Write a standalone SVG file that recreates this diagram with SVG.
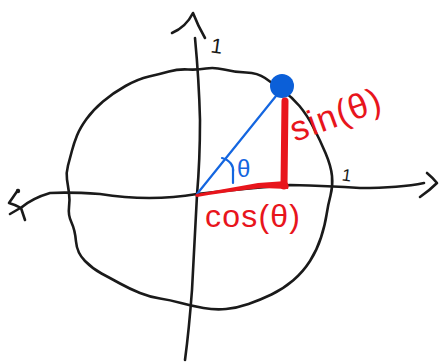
<svg xmlns="http://www.w3.org/2000/svg" width="439" height="362" viewBox="0 0 439 362">
<style>
.ink{fill:none;stroke:#1a1a1a;stroke-width:2.6;stroke-linecap:round;stroke-linejoin:round}
.red{fill:#e8151c;font-family:"Liberation Sans",Arial,sans-serif}
.blue{fill:none;stroke:#1466e0;stroke-width:2.2;stroke-linecap:round;stroke-linejoin:round}
.lbl{fill:#1a1a1a;font-family:"Liberation Sans",Arial,sans-serif}
</style>
<rect width="439" height="362" fill="#ffffff"/>
<g id="circle">
<path class="ink" d="M69 207.5 Q70 200 69 193 Q68 186 67 179.5 Q66 173 68 165.5 Q70 158 72 150.5 Q74 143 77 135.5 Q80 128 86.5 119 Q93 110 103 101.5 Q113 93 125.5 86 Q138 79 149 76.5 Q160 74 169 71.5 Q178 69 188 69.5 Q198 70 206 68.5 Q214 67 224 69.5 Q234 72 246 72.5 Q258 73 265 78 Q272 83 282 90 Q292 97 299.5 106 Q307 115 313.5 127.5 Q320 140 325.5 153 Q331 166 332 176 Q333 186 330.5 195.5 Q328 205 326.5 215 Q325 225 321 237.5 Q317 250 310 261 Q303 272 293 280.5 Q283 289 271.5 294.5 Q260 300 248.5 304 Q237 308 226 309 Q215 310 203.5 308 Q192 306 181 303 Q170 300 160 298.5 Q150 297 140 293 Q130 289 120 283.5 Q110 278 101.5 273.5 Q93 269 85 261 Q77 253 76 241.5 Q75 230 71.5 222.5 Q68 215 69 207.5 Z"/>
</g>
<g id="axes">
<path class="ink" d="M195 38 Q199 80 200 120 Q200 160 197 195 Q194 250 192 290 Q189 330 185 360"/>
<path class="ink" d="M172 33 Q186 27 193 13 Q198 26 205 38"/>
<path class="ink" d="M22 207 Q33 198 50 193 Q70 192 100 194 Q150 202 197 194 Q250 188 290 185 Q330 186 360 188 Q400 188 424 183"/>
<path class="ink" d="M427 173 Q433 178 437 183 Q430 190 420 197"/>
<path class="ink" d="M18 190 L9 203 Q16 205 21 208 L25 220 M10 214 L22 207"/>
<circle cx="18" cy="191" r="2.2" fill="#1a1a1a"/>
<text class="lbl" x="211" y="53" font-size="21" transform="rotate(8 216 45)">1</text>
<text class="lbl" x="342" y="181" font-size="17" transform="rotate(8 347 175)">1</text>
</g>
<g id="angle">
<line class="blue" x1="197" y1="194" x2="276" y2="96"/>
<path class="blue" d="M222 158 C230 160 234 166 233 172 L233 183"/>
<text x="237" y="177" font-size="24" fill="#1466e0" font-family="'Liberation Sans',Arial,sans-serif">θ</text>
<circle cx="282" cy="86" r="12" fill="#0b5fd8"/>
</g>
<g id="legs">
<line x1="285" y1="101" x2="284" y2="186" stroke="#e8151c" stroke-width="7" stroke-linecap="round"/>
<path d="M196 194 Q230 188 258 183 L286 181 Q290 185 288 189 L262 188 Q225 192 197 197 Q194 196 196 194 Z" fill="#e8151c"/>
<text class="red" x="0" y="0" font-size="35" textLength="94" lengthAdjust="spacing" transform="translate(295 142) rotate(-20)">sin(θ)</text>
<text class="red" x="205" y="227" font-size="32" textLength="95" lengthAdjust="spacing">cos(θ)</text>
</g>
</svg>
